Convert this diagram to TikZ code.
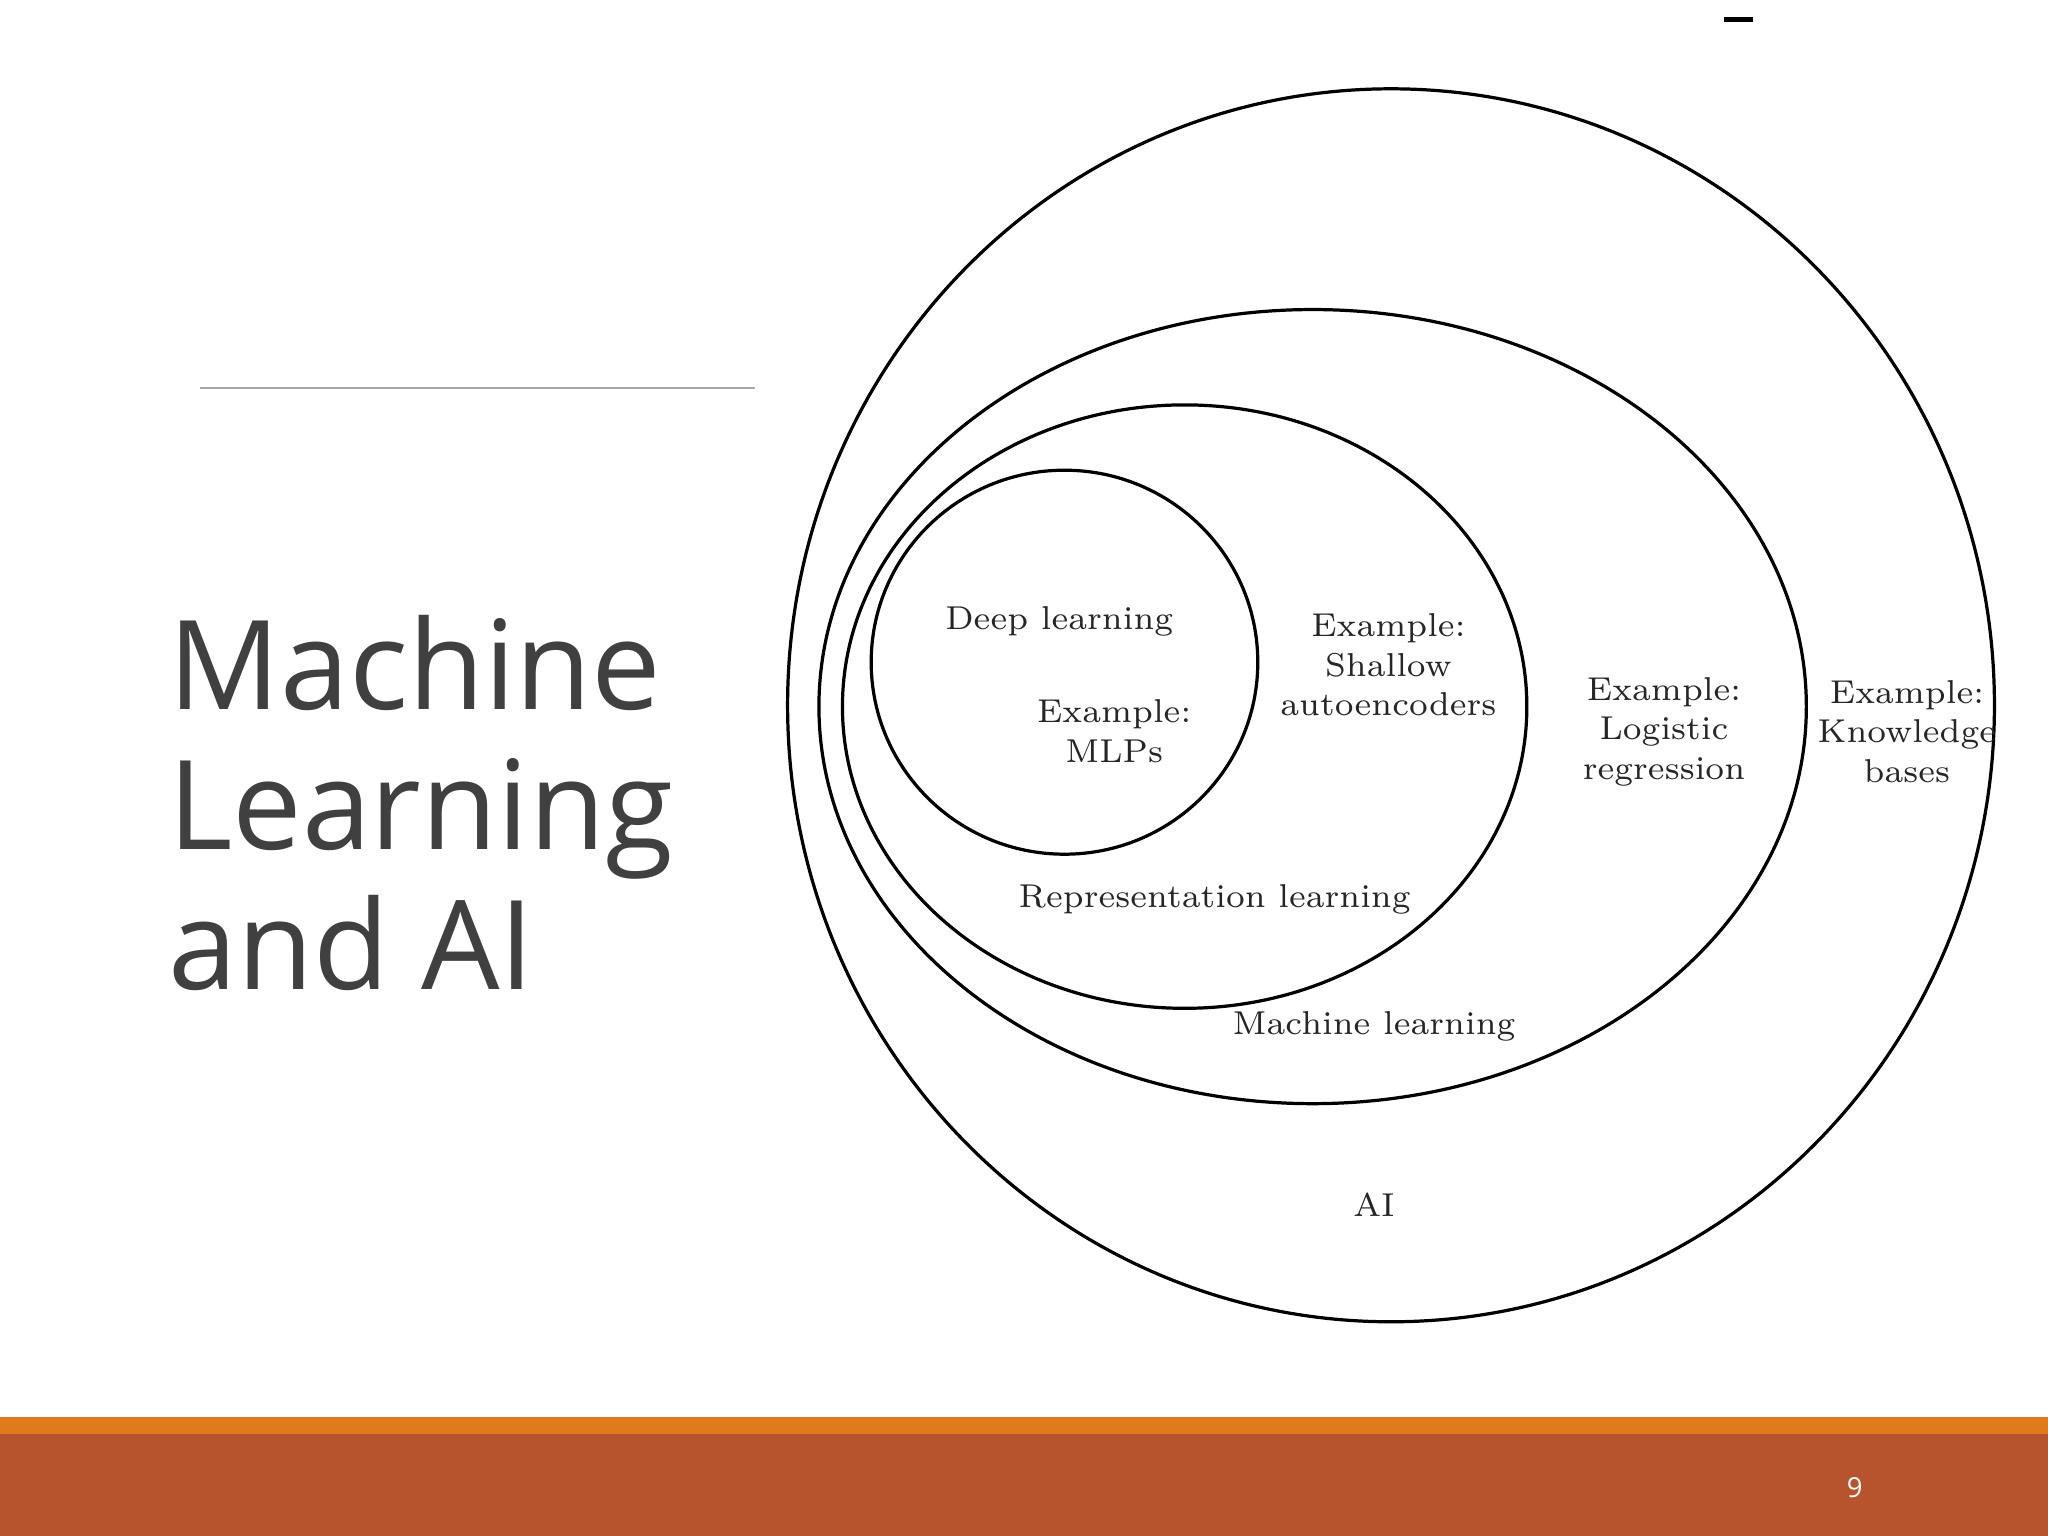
\documentclass[tikz,border=0pt]{standalone}
\usepackage{fontspec}
\newfontfamily\titlefont{Open Sans}
\begin{document}
\begin{tikzpicture}[x=0.01cm,y=-0.01cm,
  ring/.style={draw=black,line width=0.7pt},
  lbl/.style={font=\fontsize{7.2}{8.6}\selectfont,align=center,text=black!85}]
\useasboundingbox (0,0) rectangle (1568,1176);
\fill[white] (0,0) rectangle (1568,1176);
% bottom bars
\fill[orange!85!red!90!black, fill={rgb,255:red,224;green,122;blue,26}] (0,1085) rectangle (1568,1098);
\fill[fill={rgb,255:red,184;green,84;blue,45}] (0,1098) rectangle (1568,1176);
\node[text=white,font=\titlefont\fontsize{6}{7}\selectfont] (pg) at (1420,1139) {9};
% title
\node[anchor=north west,align=left,text={rgb,255:red,64;green,64;blue,64},
  font=\titlefont\fontsize{27}{30.5}\selectfont,inner sep=0] (title) at (128,470) {Machine\\Learning\\and AI};
\draw[gray!70,line width=0.6pt] (153,297) coordinate (l1) -- (578,297) coordinate (l2);
\draw[black,line width=1pt] (1320,15) coordinate (d1) -- (1342,15) coordinate (d2);
% ellipses
\draw[ring] (1065,540) ellipse [x radius=462, y radius=472];
\draw[ring] (1005,541) ellipse [x radius=378, y radius=304];
\draw[ring] (907,541) ellipse [x radius=262, y radius=231];
\draw[ring] (815,507) ellipse [x radius=148, y radius=147];
% labels
\node[lbl] (dl) at (811,476) {Deep learning};
\node[lbl] (mlp) at (853,560) {Example:\\MLPs};
\node[lbl] (sa) at (1063,509) {Example:\\Shallow\\autoencoders};
\node[lbl] (rl) at (930,689) {Representation learning};
\node[lbl] (lr) at (1274,560) {Example:\\Logistic\\regression};
\node[lbl] (kb) at (1460,560) {Example:\\Knowledge\\bases};
\node[lbl] (ml) at (1052,786) {Machine learning};
\node[lbl] (ai) at (1052,922) {AI};
\end{tikzpicture}
\end{document}
